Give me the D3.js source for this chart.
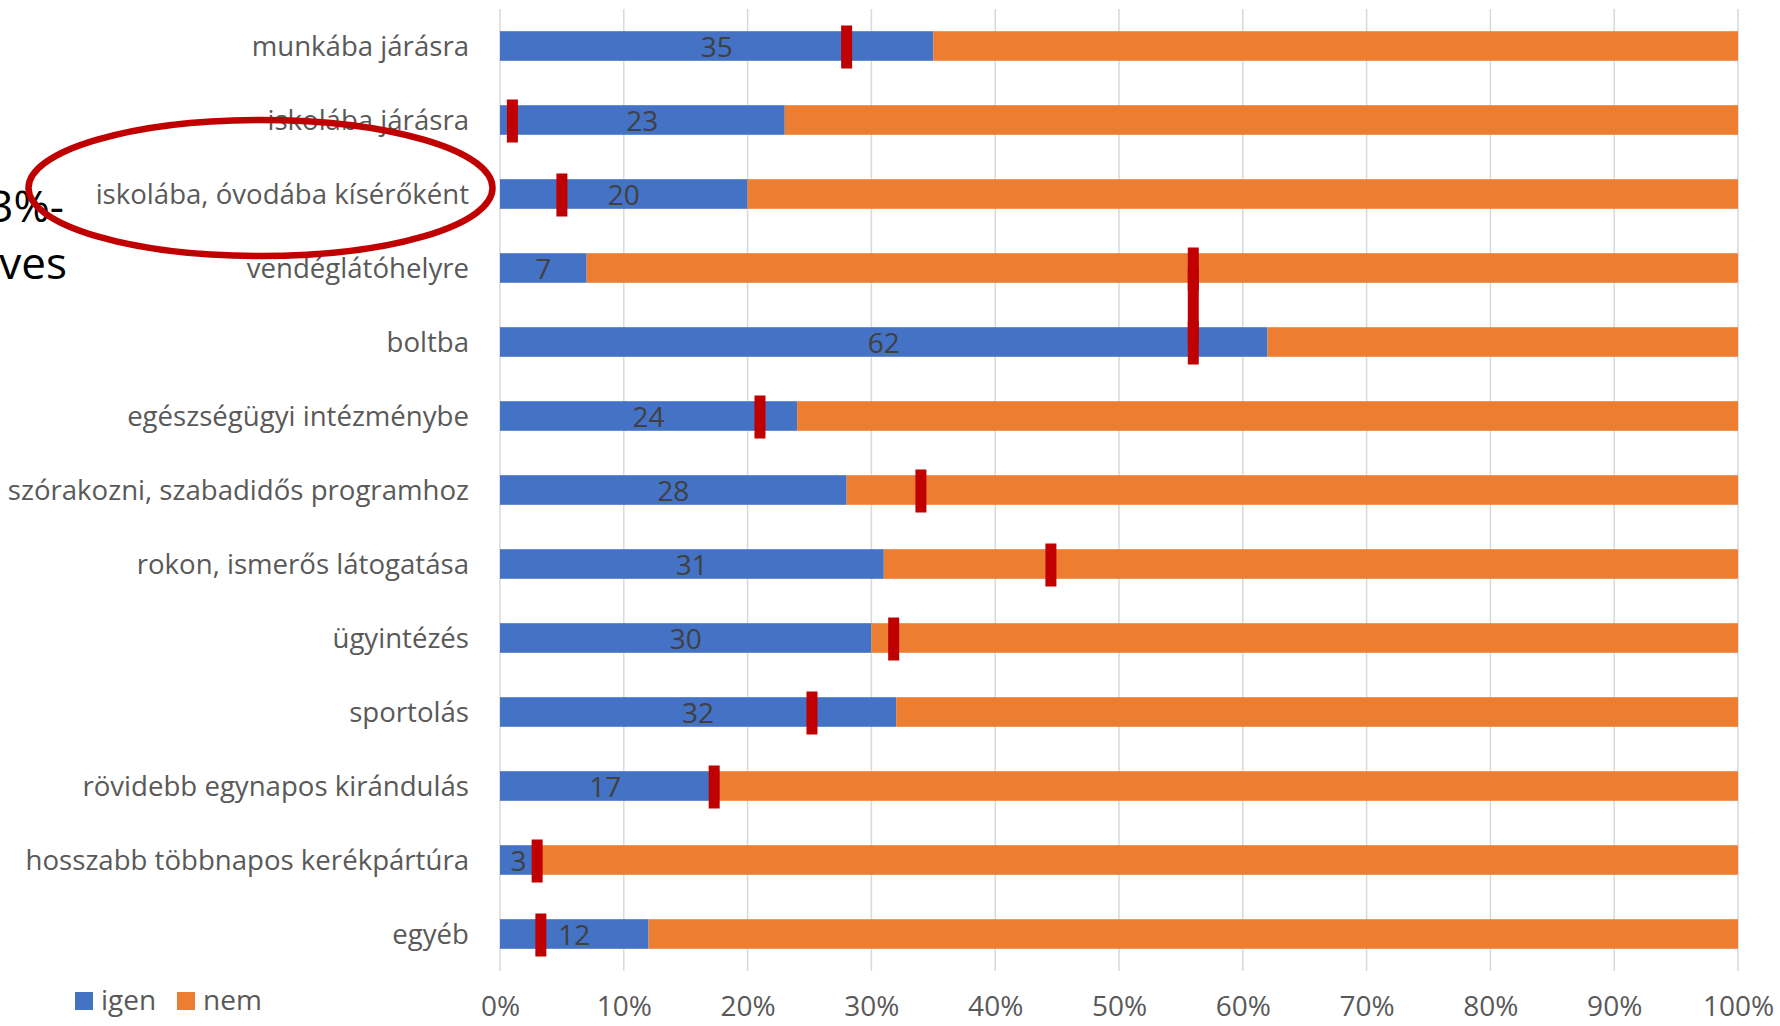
<!DOCTYPE html>
<html><head><meta charset="utf-8">
<script src="https://cdn.jsdelivr.net/npm/d3@7"></script>
<style>
html,body{margin:0;padding:0;background:#fff;}
svg{display:block;font-family:"Open Sans",sans-serif;}
</style></head>
<body>
<svg id="chart" width="1780" height="1026"></svg>
<script>
const categories = ["munkába járásra","iskolába járásra","iskolába, óvodába kísérőként","vendéglátóhelyre","boltba","egészségügyi intézménybe","szórakozni, szabadidős programhoz","rokon, ismerős látogatása","ügyintézés","sportolás","rövidebb egynapos kirándulás","hosszabb többnapos kerékpártúra","egyéb"];
const igen = [35,23,20,7,62,24,28,31,30,32,17,3,12];
const nem = [65,77,80,93,38,76,72,69,70,68,83,97,88];
const markers = [28,1,5,56,56,21,34,44.5,31.8,25.2,17.3,3,3.3];
const xTicks = [0,10,20,30,40,50,60,70,80,90,100];
const legendLabels = ["igen","nem"];
const sideTexts = ["3%-","eves"];

const svg = d3.select("#chart");
const blue = "#4472C4", orange = "#ED7D31", red = "#C00000";

const x = d3.scaleLinear().domain([0,100]).range([500,1738]);
const y = d3.scaleBand().domain(categories).range([9,971]).paddingInner(0.6).paddingOuter(0.3);

// gridlines
svg.append("g").selectAll("line").data(xTicks).join("line")
  .attr("x1",d=>x(d)).attr("x2",d=>x(d)).attr("y1",9).attr("y2",971)
  .attr("stroke","#d9d9d9").attr("stroke-width",1.5);

// bars
const rows = categories.map((c,i)=>({c, igen:igen[i], nem:nem[i], m:markers[i], i}));
svg.append("g").selectAll("rect").data(rows).join("rect")
  .attr("x",x(0)).attr("y",d=>y(d.c)).attr("width",d=>x(d.igen)-x(0)).attr("height",y.bandwidth())
  .attr("fill",blue);
svg.append("g").selectAll("rect").data(rows).join("rect")
  .attr("x",d=>x(d.igen)).attr("y",d=>y(d.c)).attr("width",d=>x(d.igen+d.nem)-x(d.igen)).attr("height",y.bandwidth())
  .attr("fill",orange);

// value labels
svg.append("g").selectAll("text").data(rows).join("text")
  .attr("x",d=>(x(0)+x(d.igen))/2).attr("y",d=>y(d.c)+y.bandwidth()/2+1)
  .attr("dy","0.36em").attr("text-anchor","middle")
  .attr("font-size",28).attr("fill","#404040").text(d=>d.igen);

// red markers
const mh = 43, mw = 11;
const mg = svg.append("g");
mg.selectAll("rect.m").data(rows).join("rect").attr("class","m")
  .attr("x",d=>x(d.m)-mw/2).attr("y",d=>y(d.c)+y.bandwidth()/2-mh/2+1)
  .attr("width",mw).attr("height",mh).attr("fill",red);
// join adjacent markers with same value
const joins = rows.filter((d,i)=>i<rows.length-1 && rows[i+1].m===d.m);
mg.selectAll("rect.j").data(joins).join("rect").attr("class","j")
  .attr("x",d=>x(d.m)-mw/2).attr("y",d=>y(d.c)+y.bandwidth()/2)
  .attr("width",mw).attr("height",y.step()).attr("fill",red);

// category axis labels
svg.append("g").selectAll("text").data(categories).join("text")
  .attr("x",469).attr("y",d=>y(d)+y.bandwidth()/2)
  .attr("dy","0.36em").attr("text-anchor","end")
  .attr("font-size",27.6).attr("fill","#595959").text(d=>d);

// x axis tick labels
const xAxis = d3.axisBottom(x).tickValues(xTicks).tickFormat(d=>d+"%").tickSize(0).tickPadding(0);
const ax = svg.append("g").attr("transform","translate(0,994)").call(xAxis);
ax.select(".domain").remove();
ax.selectAll("text").attr("font-size",28).attr("fill","#595959").attr("font-family","Open Sans").attr("dy","0.8em");

// legend
const lg = svg.append("g");
const lx = [75,177];
legendLabels.forEach((t,i)=>{
  lg.append("rect").attr("x",lx[i]).attr("y",992).attr("width",18).attr("height",18).attr("fill",i===0?blue:orange);
  lg.append("text").attr("x",lx[i]+26).attr("y",1010).attr("font-size",28).attr("fill","#595959").text(t);
});

// side texts (cut off on left, as in the source)
svg.append("text").attr("x",64).attr("y",222).attr("text-anchor","end").attr("font-size",44).attr("fill","#000").text(sideTexts[0]);
svg.append("text").attr("x",67).attr("y",279).attr("text-anchor","end").attr("font-size",44).attr("fill","#000").text(sideTexts[1]);

// red ellipse annotation
svg.append("ellipse").attr("cx",260.5).attr("cy",188).attr("rx",232).attr("ry",68)
  .attr("fill","none").attr("stroke",red).attr("stroke-width",6.5);
</script>
</body></html>
